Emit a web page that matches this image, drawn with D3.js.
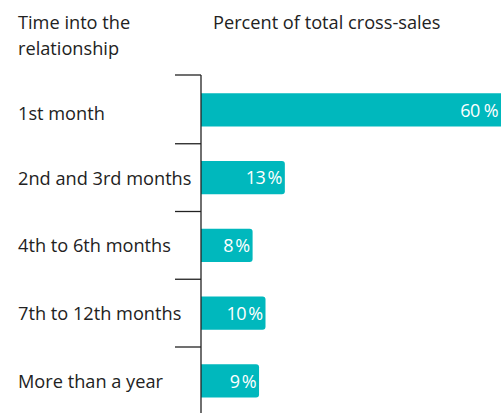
<!DOCTYPE html>
<html><head><meta charset="utf-8">
<script src="https://cdn.jsdelivr.net/npm/d3@7"></script>
<style>
body{margin:0;background:#fff;}
svg{display:block;font-family:"Open Sans",sans-serif;}
</style></head>
<body><svg id="chart" width="501" height="413"></svg>
<script>
const categories = ["1st month","2nd and 3rd months","4th to 6th months","7th to 12th months","More than a year"];
const values = [60, 13, 8, 10, 9];
const valueLabels = ["60 %","13\u2009%","8\u2009%","10\u2009%","9\u2009%"];
const yTitle = ["Time into the","relationship"];
const xTitle = "Percent of total cross-sales";

const svg = d3.select("#chart");
const W = 501, H = 413;
const axisX = 201;
const fs = 18.2;
const x = d3.scaleLinear().domain([0, 60]).range([axisX, axisX + 6.45*60]);
const y = d3.scaleBand().domain(categories).range([76, 414.75]).paddingInner(0.51).paddingOuter(0.255);
const color = "#00b8bd";

// titles
const tt = svg.append("text").attr("x", 18).attr("y", 29).attr("font-size", fs).attr("fill", "#222");
yTitle.forEach((t,i)=>tt.append("tspan").attr("x",18).attr("dy", i?26:0).text(t));
svg.append("text").attr("x", 213).attr("y", 29).attr("font-size", fs).attr("fill", "#222").text(xTitle);

// bars
const data = categories.map((c,i)=>({c, v: values[i], l: valueLabels[i]}));
const r = 3;
svg.selectAll("path.bar").data(data).join("path").attr("class","bar")
  .attr("fill", color)
  .attr("d", d => {
    const x0 = axisX, x1 = x(d.v), y0 = y(d.c), y1 = y0 + y.bandwidth();
    return `M${x0},${y0}H${x1-r}Q${x1},${y0} ${x1},${y0+r}V${y1-r}Q${x1},${y1} ${x1-r},${y1}H${x0}Z`;
  });

svg.selectAll("text.val").data(data).join("text").attr("class","val")
  .attr("x", d => Math.min(x(d.v), W) - 3)
  .attr("y", d => y(d.c) + y.bandwidth()/2)
  .attr("dy", "0.38em")
  .attr("text-anchor", "end")
  .attr("font-size", 18)
  .attr("letter-spacing", -0.6)
  .attr("fill", "#fff")
  .text(d => d.l);

// axis
const boundaries = categories.map(c => y(c) - y.step()*y.paddingInner()/2);
boundaries[0] = 75;
const ag = svg.append("g").attr("stroke", "#222").attr("stroke-width", 1.3).attr("fill","none");
ag.append("line").attr("x1", axisX).attr("x2", axisX).attr("y1", 75).attr("y2", H);
ag.selectAll("line.tick").data(boundaries).join("line").attr("class","tick")
  .attr("x1", 175).attr("x2", axisX).attr("y1", d=>d).attr("y2", d=>d);

// category labels
svg.selectAll("text.cat").data(data).join("text").attr("class","cat")
  .attr("x", 18)
  .attr("y", (d,i) => y(d.c) + y.bandwidth()/2 + (i===0 ? 3 : 0))
  .attr("dy", "0.38em")
  .attr("font-size", fs)
  .attr("fill", "#222")
  .text(d => d.c);
</script></body></html>
